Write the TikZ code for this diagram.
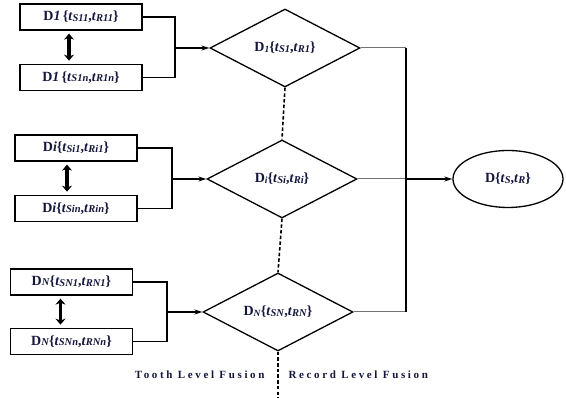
\documentclass[tikz,border=0pt]{standalone}
\usepackage{fontspec}
\setmainfont{Liberation Serif}
\usetikzlibrary{arrows.meta,positioning,shapes.geometric}

\definecolor{inkblue}{RGB}{20,22,60}
\newcommand{\tsub}[1]{\textit{t}\raisebox{-0.6pt}{\fontsize{10.5}{10}\selectfont\textit{#1}}}

\begin{document}
\begin{tikzpicture}[
  x=1pt, y=1pt,
  font=\fontsize{14}{16}\selectfont\bfseries,
  recbox/.style={draw, line width=1.3pt, minimum width=122pt, minimum height=26pt, inner sep=0pt, text=inkblue},
  decide/.style={draw, diamond, line width=1.3pt, minimum width=150pt, minimum height=78pt, inner sep=0pt, aspect=1.9, text=inkblue},
  result/.style={draw, ellipse, line width=1.3pt, minimum width=110pt, minimum height=57pt, inner sep=0pt, text=inkblue},
  bracket/.style={line width=1.2pt},
  feed/.style={-{Stealth[length=8pt,width=5pt]}, line width=1.8pt},
  swap/.style={{Stealth[length=6pt,width=10pt]}-{Stealth[length=6pt,width=10pt]}, line width=3.6pt, shorten <=3pt, shorten >=3pt},
  link/.style={line width=1pt, draw=black!55},
  trunk/.style={line width=1.4pt},
  split/.style={line width=1.6pt, dash pattern=on 3.5pt off 2.2pt},
  tag/.style={text=inkblue, font=\fontsize{11}{13}\selectfont\bfseries\addfontfeature{LetterSpace=24}}
]
\useasboundingbox (0,0) rectangle (566,398);

% tooth level: groups of records
\node[recbox] (a1) at (81,381) {D\textit{1}\,\{\tsub{S11},\tsub{R11}\}};
\node[recbox, below=33pt of a1] (a2) {D\textit{1}\,\{\tsub{S1n},\tsub{R1n}\}};
\node[recbox] (b1) at (76,250) {D\textit{i}\{\tsub{Si1},\tsub{Ri1}\}};
\node[recbox, below=33pt of b1] (b2) {D\textit{i}\{\tsub{Sin},\tsub{Rin}\}};
\node[recbox] (c1) at (71.5,116) {D{\fontsize{10.5}{10}\selectfont\textit{N}}\{\tsub{SN1},\tsub{RN1}\}};
\node[recbox, below=32pt of c1] (c2) {D{\fontsize{10.5}{10}\selectfont\textit{N}}\{\tsub{SNn},\tsub{RNn}\}};

\draw[swap] ([xshift=-12pt]a1.south) -- ([xshift=-12pt]a2.north);
\draw[swap] ([xshift=-9pt]b1.south) -- ([xshift=-9pt]b2.north);
\draw[swap] ([xshift=-11pt]c1.south) -- ([xshift=-11pt]c2.north);

% record level decisions
\node[decide] (d1) at (285,350) {D\raisebox{-1pt}{\fontsize{9.5}{9}\selectfont\textit{1}}\{\tsub{S1},\tsub{R1}\}};
\node[decide] (d2) at (282,219) {D\raisebox{-1pt}{\fontsize{9.5}{9}\selectfont\textit{i}}\{\tsub{Si},\tsub{Ri}\}};
\node[decide] (d3) at (278,86) {D\raisebox{-1pt}{\fontsize{9.5}{9}\selectfont\textit{N}}\{\tsub{SN},\tsub{RN}\}};

\coordinate (j1) at (175,350);
\coordinate (j2) at (172,219);
\coordinate (j3) at (167,86);

\draw[bracket] (a1.east) -| (j1) |- (a2.east);
\draw[bracket] (b1.east) -| (j2) |- (b2.east);
\draw[bracket] (c1.east) -| (j3) |- (c2.east);
\draw[feed] (j1) -- (d1.west);
\draw[feed] (j2) -- (d2.west);
\draw[feed] (j3) -- (d3.west);

% final decision
\node[result] (e) at (508,219) {D\{\tsub{S},\tsub{R}\}};

\coordinate (t1) at (406,350);
\coordinate (t2) at (406,219);
\coordinate (t3) at (406,86);
\draw[link] (d1.east) -- (t1);
\draw[link] (d2.east) -- (t2);
\draw[link] (d3.east) -- (t3);
\draw[trunk] (t1) -- (t3);
\draw[feed] (t2) -- (e.west);

% fusion levels
\coordinate (foot) at (d3.south |- 0,0);
\draw[split] (d1.south) -- (d2.north);
\draw[split] (d2.south) -- (d3.north);
\draw[split] (d3.south) -- (foot);

\node[tag, anchor=east] (tooth) at (268,23) {Tooth Level Fusion};
\node[tag, anchor=west] (record) at (285,23) {Record Level Fusion};

\end{tikzpicture}
\end{document}
